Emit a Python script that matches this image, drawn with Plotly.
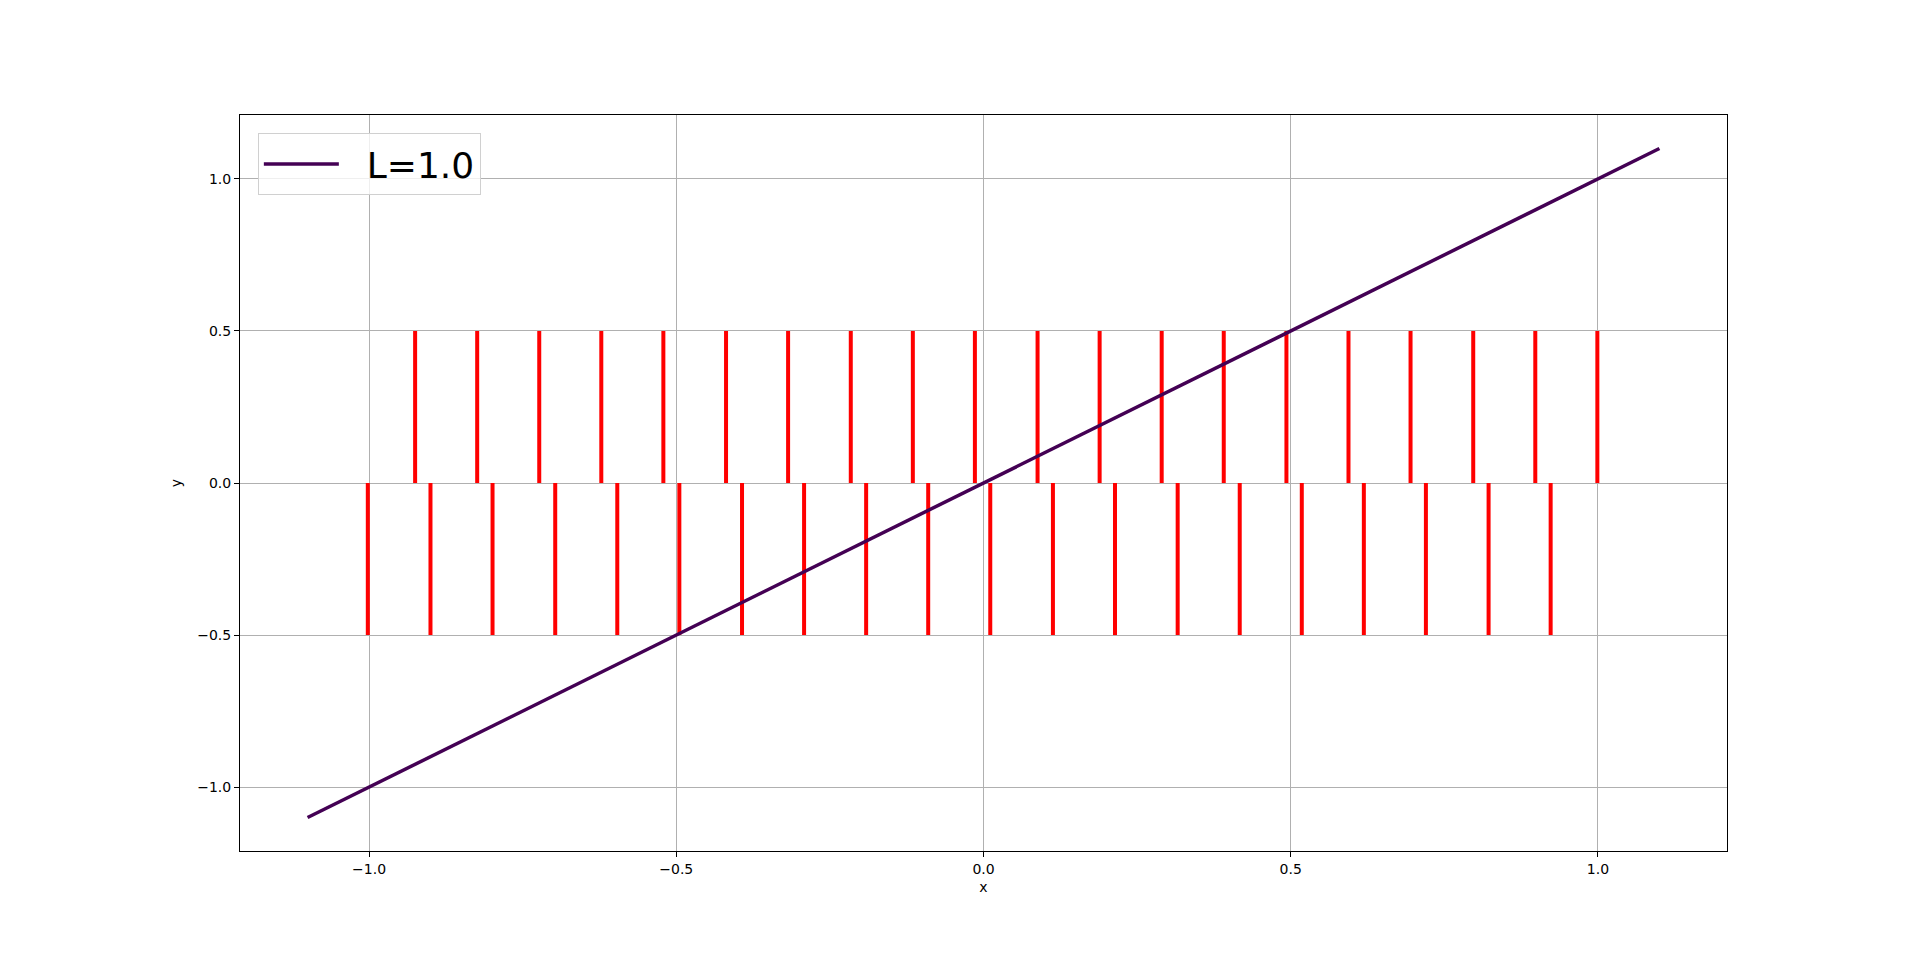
import plotly.graph_objects as go

# Data
upper_x = [-0.925, -0.824, -0.723, -0.622, -0.521, -0.419, -0.318, -0.216, -0.115, -0.014,
           0.088, 0.189, 0.290, 0.391, 0.493, 0.594, 0.695, 0.797, 0.898, 0.999]
upper_y0 = 0.0
upper_y1 = 0.5

lower_x = [-1.002, -0.900, -0.799, -0.697, -0.596, -0.495, -0.393, -0.292, -0.191, -0.090,
           0.011, 0.113, 0.214, 0.316, 0.417, 0.518, 0.619, 0.720, 0.822, 0.923]
lower_y0 = -0.5
lower_y1 = 0.0

line_x = [-1.1, 1.1]
line_y = [-1.1, 1.1]
line_name = "L=1.0"

tick_vals = [-1.0, -0.5, 0.0, 0.5, 1.0]
tick_text = ["\u22121.0", "\u22120.5", "0.0", "0.5", "1.0"]


def segs(xs, y0, y1):
    X, Y = [], []
    for x in xs:
        X += [x, x, None]
        Y += [y0, y1, None]
    return X, Y


fig = go.Figure()
ux, uy = segs(upper_x, upper_y0, upper_y1)
lx, ly = segs(lower_x, lower_y0, lower_y1)
fig.add_trace(go.Scatter(x=ux, y=uy, mode="lines", line=dict(color="#ff0000", width=4),
                         showlegend=False, hoverinfo="skip"))
fig.add_trace(go.Scatter(x=lx, y=ly, mode="lines", line=dict(color="#ff0000", width=4),
                         showlegend=False, hoverinfo="skip"))
fig.add_trace(go.Scatter(x=line_x, y=line_y, mode="lines", name="\u00a0\u00a0" + line_name,
                         line=dict(color="#440154", width=3.5)))

axis_common = dict(
    showgrid=True, gridcolor="#b0b0b0", gridwidth=1,
    zeroline=False, showline=True, linecolor="black", linewidth=1, mirror=True,
    ticks="outside", ticklen=5, tickwidth=1, tickcolor="black",
    tickvals=tick_vals, ticktext=tick_text,
    tickfont=dict(family="DejaVu Sans", size=14, color="black"),
)

fig.update_layout(
    width=1902, height=940,
    margin=dict(l=232, r=183, t=107, b=97),
    paper_bgcolor="white", plot_bgcolor="white",
    font=dict(family="DejaVu Sans", color="black"),
    xaxis=dict(range=[-1.21, 1.21], title=dict(text="x", font=dict(size=14), standoff=6), **axis_common),
    yaxis=dict(range=[-1.21, 1.21], title=dict(text="y", font=dict(size=14), standoff=12), **axis_common),
    legend=dict(x=0.012, y=0.9755, xanchor="left", yanchor="top",
                bgcolor="rgba(255,255,255,0.8)", bordercolor="#d0d0d0", borderwidth=1,
                font=dict(size=36, family="DejaVu Sans"), itemwidth=75),
    showlegend=True,
)

fig.write_html("out.html")
